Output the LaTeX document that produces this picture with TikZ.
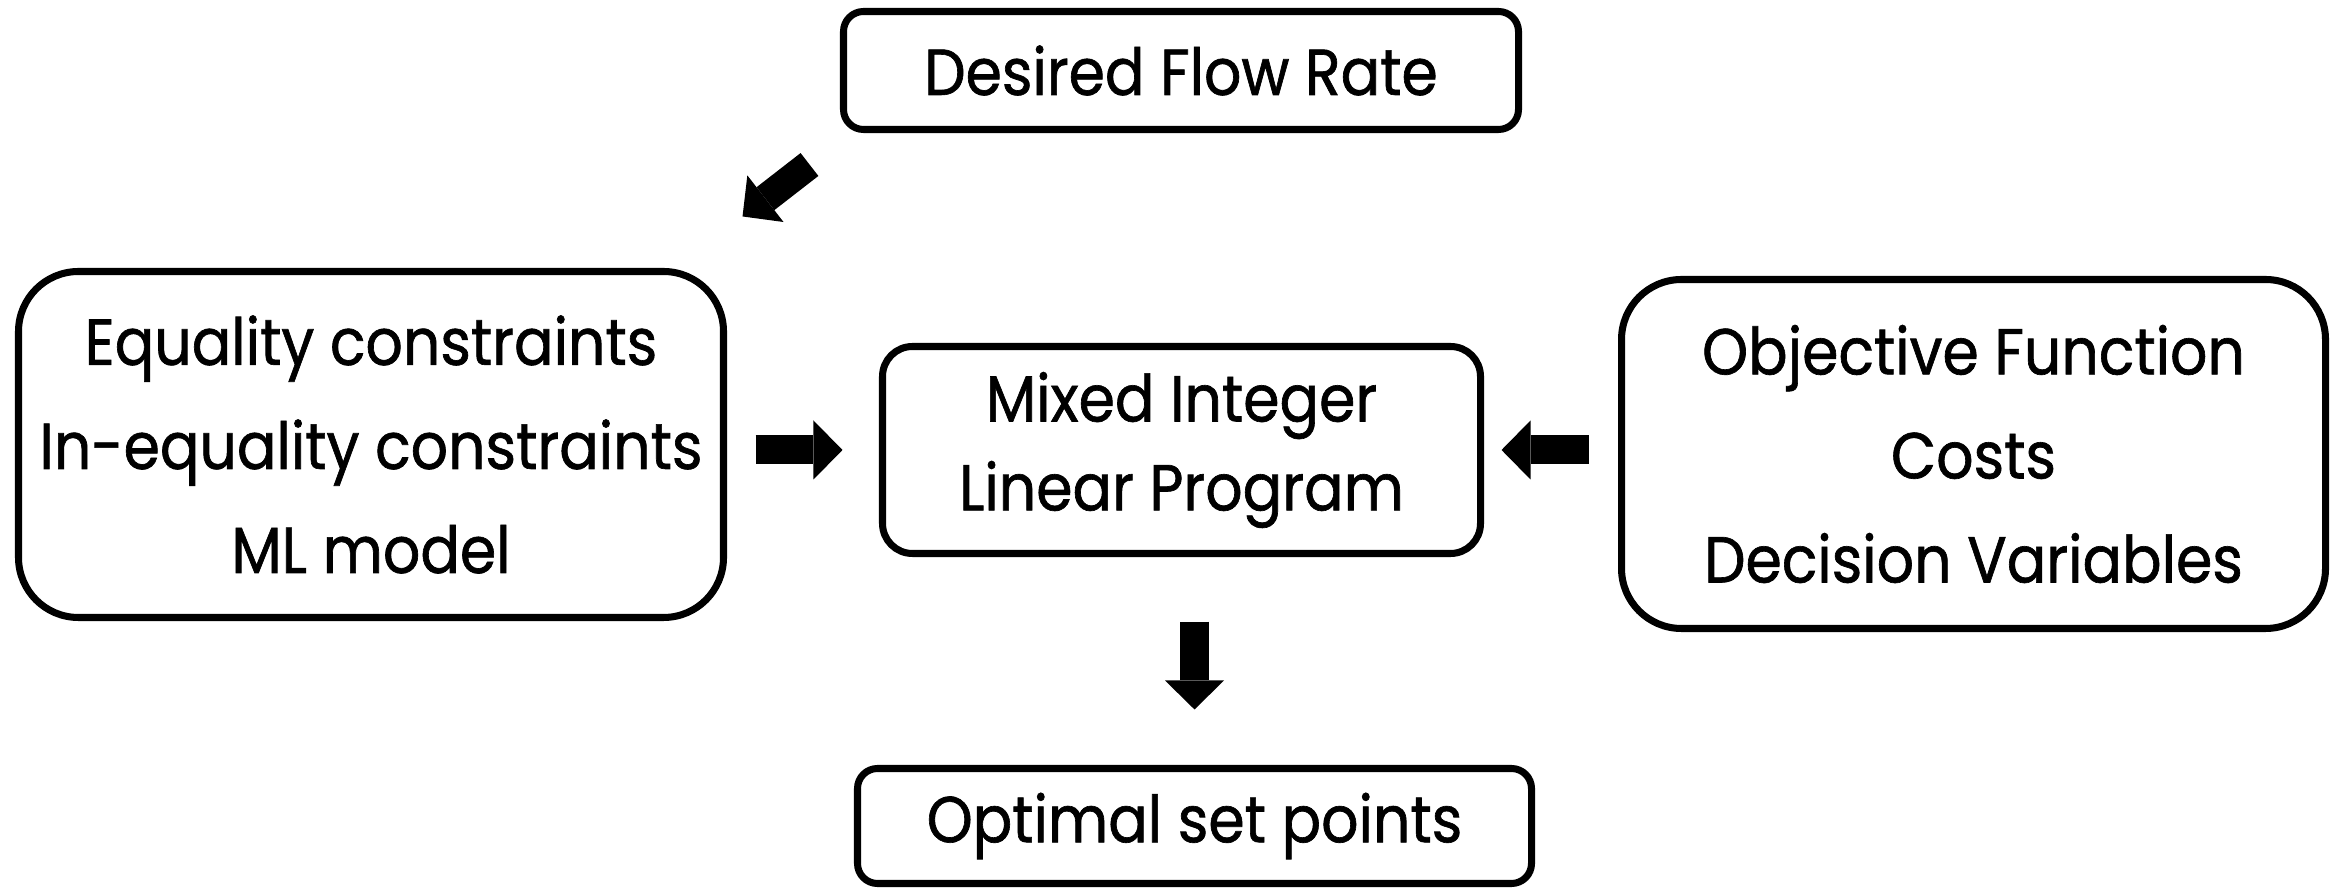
\documentclass[tikz,border=0pt]{standalone}
\usepackage{fontspec}
\setmainfont{Poppins}[FakeStretch=0.9, FakeBold=1]
\usetikzlibrary{arrows.meta}

\tikzset{
  box/.style={draw, line width=2pt, rounded corners=0.2cm, align=center, inner sep=0pt,
    font=\fontsize{18.5}{29.6}\selectfont},
  bigbox/.style={box, rounded corners=0.6cm},
  blockarrow/.style={line width=0.29cm, -{Triangle[length=0.29cm, width=0.59cm, line width=0pt]}},
}

\begin{document}
\begin{tikzpicture}
\useasboundingbox (0,0) rectangle (23.38,-8.96);

% Boxes
\node[box, minimum width=6.75cm, minimum height=1.18cm] (flow) at (11.81,-0.705) {Desired Flow Rate};
\node[bigbox, minimum width=7.05cm, minimum height=3.46cm] (cons) at (3.71,-4.445)
  {Equality constraints\\In-equality constraints\\ML model};
\node[box, rounded corners=0.3cm, minimum width=5.98cm, minimum height=2.07cm,
  font=\fontsize{18.5}{25.3}\selectfont] (milp) at (11.815,-4.50) {Mixed Integer\\Linear Program};
\node[bigbox, minimum width=7.04cm, minimum height=3.49cm] (obj) at (19.735,-4.54)
  {Objective Function\\Costs\\Decision Variables};
\node[box, minimum width=6.74cm, minimum height=1.15cm] (setpts) at (11.945,-8.26) {Optimal set points};

% Block arrows
\draw[blockarrow] ([shift={(-0.305,-0.315)}]flow.south west) -- ([shift={(0.155,0.515)}]cons.north east);
\draw[blockarrow, shorten <=0.285cm, shorten >=0.365cm] (cons.east |- milp.west) -- (milp.west);
\draw[blockarrow, shorten <=0.295cm, shorten >=0.175cm] (obj.west |- milp.east) -- (milp.east);
\draw[blockarrow, shorten <=0.645cm, shorten >=0.555cm] (setpts.north |- milp.south) -- (setpts.north);

\end{tikzpicture}
\end{document}
